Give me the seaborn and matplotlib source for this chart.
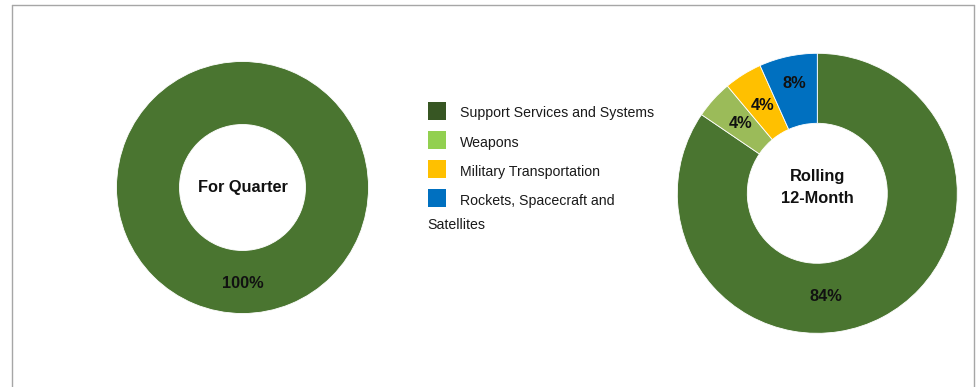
import matplotlib
matplotlib.use("Agg")
import numpy as np
import matplotlib.pyplot as plt
from matplotlib.patches import Rectangle
from matplotlib.lines import Line2D
import seaborn as sns

# ---- data ----
categories = ["Support Services and Systems", "Weapons", "Military Transportation",
              "Rockets, Spacecraft and\nSatellites"]
quarter_values = [100.0]
quarter_labels = ["100%"]
rolling_values = [84.5, 4.4, 4.4, 6.7]
rolling_labels = ["84%", "4%", "4%", "8%"]
pie_colors = ["#4A7530", "#9BBB59", "#FFC000", "#0070C0"]
legend_colors = ["#375623", "#92D050", "#FFC000", "#0070C0"]
center_titles = ["For Quarter", "Rolling\n12-Month"]

sns.set_theme(style="white")
FONT = ["Liberation Sans", "DejaVu Sans"]
plt.rcParams["font.family"] = FONT

W, H = 979, 387
fig = plt.figure(figsize=(W / 100, H / 100), dpi=100)
fig.patch.set_facecolor("white")


def donut_axes(cx, cy, r):
    ax = fig.add_axes([(cx - r) / W, (H - cy - r) / H, 2 * r / W, 2 * r / H])
    ax.axis("off")
    return ax


def draw_donut(ax, values, labels, colors, title, pctdist, angle_override=None, title_dy=0.0):
    ax.pie(values, colors=colors, startangle=90, counterclock=False,
           radius=1.0, wedgeprops=dict(width=0.5, edgecolor="white", linewidth=0.6))
    total = sum(values)
    cum = 0.0
    for i, (v, lab, d) in enumerate(zip(values, labels, pctdist)):
        mid = 90 - (cum + v / 2) / total * 360
        cum += v
        if angle_override and i in angle_override:
            mid = angle_override[i]
        ax.text(d * np.cos(np.radians(mid)), d * np.sin(np.radians(mid)), lab,
                ha="center", va="center", fontsize=11.8, color="#111111", fontweight="bold")
    ax.text(0, title_dy, title, ha="center", va="center", fontsize=11.8, color="#111111",
            fontweight="bold", linespacing=1.55)
    ax.set_xlim(-1, 1)
    ax.set_ylim(-1, 1)
    ax.set_aspect("equal")


ax1 = donut_axes(242.5, 187.5, 126)
draw_donut(ax1, quarter_values, quarter_labels, pie_colors[:1], center_titles[0], [0.76])

ax2 = donut_axes(817.3, 193.3, 140)
draw_donut(ax2, rolling_values, rolling_labels, pie_colors, center_titles[1],
           [0.74, 0.74, 0.74, 0.80], angle_override={0: -85.5}, title_dy=0.04)

# ---- legend ----
row_y = [110.5, 140, 169, 198.3]
for cat, col, yc in zip(categories, legend_colors, row_y):
    fig.patches.append(Rectangle((428 / W, (H - yc - 9) / H), 18 / W, 18 / H,
                                 transform=fig.transFigure, facecolor=col, edgecolor="none"))
    lines = cat.split("\n")
    fig.text(460 / W, (H - yc - 3) / H, lines[0], ha="left", va="center",
             fontsize=10.2, color="#1a1a1a")
    if len(lines) > 1:
        fig.text(427 / W, (H - yc - 27) / H, lines[1], ha="left", va="center",
                 fontsize=10.2, color="#1a1a1a")

# ---- frame ----
fc = "#A6A6A6"
fig.add_artist(Line2D([12.5 / W, 12.5 / W], [0, (H - 5) / H], transform=fig.transFigure, color=fc, lw=1))
fig.add_artist(Line2D([974.5 / W, 974.5 / W], [0, (H - 5) / H], transform=fig.transFigure, color=fc, lw=1))
fig.add_artist(Line2D([12.5 / W, 974.5 / W], [(H - 5) / H, (H - 5) / H], transform=fig.transFigure, color=fc, lw=1))

fig.savefig("out.png", dpi=100, facecolor="white")
